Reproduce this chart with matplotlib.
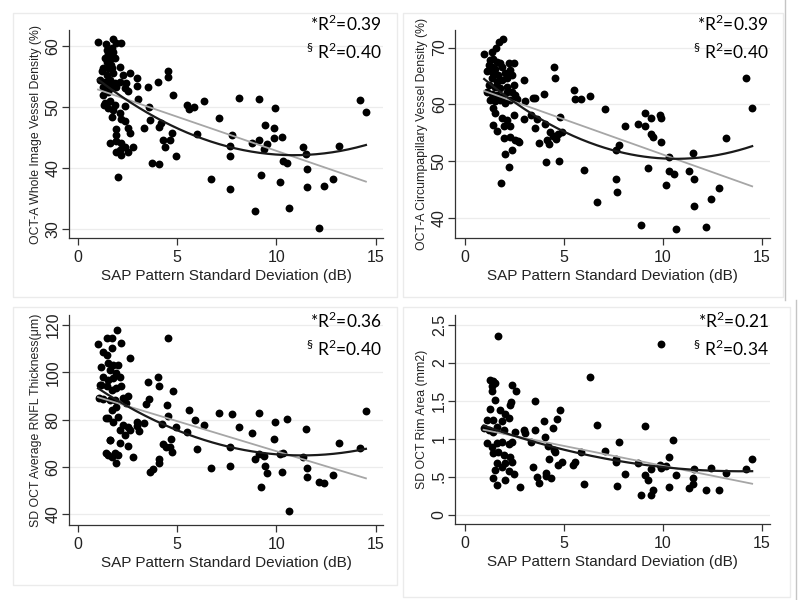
import matplotlib
matplotlib.use("Agg")
import matplotlib.pyplot as plt
from matplotlib.lines import Line2D
from matplotlib.patches import Rectangle
import numpy as np

# PSD (dB) and outcome values
psd_vd = [1.02, 1.41, 1.75, 1.95, 2.2, 1.45, 1.7, 1.53, 1.78, 1.36, 1.7, 1.87,
          1.28, 1.53, 1.7, 2.12, 1.2, 1.45, 1.78, 2.28, 2.62,
          1.11, 1.36, 1.61, 1.87, 2.12, 2.45, 1.28, 1.61, 1.95, 2.37, 2.54,
          1.36, 1.61, 1.87, 1.53, 1.78, 2.37, 2.12, 1.7, 2.2, 2.37, 1.95, 2.54, 1.95, 2.62,
          1.61, 1.95, 2.2, 2.37, 2.12, 2.54, 1.95, 2.2, 2.04,
          1.25, 1.5, 1.45, 1.65, 1.3, 1.55,
          2.96, 2.96, 3.04, 2.79, 3.53, 3.6, 3.63, 3.33, 3.76, 4.05, 4.1, 4.2, 4.1,
          4.3, 4.38, 4.52, 4.55, 4.64, 4.72, 4.8, 4.92, 5.48, 5.61, 5.86, 6.01,
          6.35, 6.69, 7.11, 7.66, 7.66, 7.66, 7.78, 8.11, 8.77, 8.9,
          9.1, 9.1, 9.24, 9.39, 9.42, 9.51, 9.88, 9.93, 9.88,
          10.16, 10.28, 10.35, 10.52, 10.62, 11.34, 11.49, 11.52, 11.54,
          12.16, 12.41, 12.83, 13.17, 14.21, 14.5]
whole_vd = [60.7, 60.4, 61.3, 60.6, 60.6, 59.4, 59.7, 58.7, 59.1, 58.1, 58.1, 58.1,
            56.4, 56.5, 56.4, 56.7, 55.9, 55.3, 55.6, 55.3, 55.6,
            54.5, 54.2, 54.5, 54.0, 54.2, 54.0, 53.4, 53.1, 53.4, 53.1, 52.6,
            50.7, 51.0, 50.4, 49.9, 49.6, 50.2, 49.0, 48.4, 48.1, 47.8, 46.4, 46.6, 45.5, 45.8,
            44.1, 44.4, 44.1, 43.5, 43.0, 42.7, 42.7, 42.2, 38.6,
            52.0, 52.5, 57.5, 57.0, 50.3, 54.0,
            54.8, 53.5, 51.3, 43.4, 53.3, 50.1, 47.9, 46.6, 40.9, 54.1, 46.8, 47.5, 40.7,
            44.6, 43.5, 55.9, 54.9, 44.6, 45.7, 52.1, 42.0, 50.4, 49.8, 50.1, 45.6,
            51.1, 38.3, 48.3, 42.0, 43.6, 36.6, 45.5, 51.6, 44.2, 33.0,
            51.3, 44.6, 38.8, 43.2, 47.1, 44.0, 46.6, 49.9, 45.0,
            37.7, 45.2, 41.2, 40.8, 33.4, 43.5, 42.4, 39.9, 36.9,
            30.2, 37.0, 38.3, 43.7, 51.2, 49.3]

psd_cvd = [1.93, 1.76, 1.6, 1.38, 0.99,
           1.29, 1.46, 1.63, 1.8, 1.21, 1.38, 1.55, 1.88, 2.22, 2.47,
           1.13, 1.46, 1.71, 2.05, 2.3, 1.38, 1.63, 1.88, 2.14, 2.39,
           1.21, 1.55, 1.8, 2.14, 2.47, 1.13, 1.38, 1.63, 1.88, 2.14, 2.39, 2.56,
           1.29, 1.55, 1.8, 2.05, 2.3, 2.64, 1.46, 1.55, 1.88, 2.14, 2.47,
           1.46, 1.63, 1.97, 2.3, 1.97, 2.3, 2.56, 2.73, 2.39, 2.05, 2.22, 1.83,
           2.98, 3.06, 2.98, 2.72, 3.45, 3.56, 3.35, 3.56, 3.65, 3.73,
           4.03, 4.07, 4.1, 4.15, 4.27, 4.32, 4.46, 4.49, 4.54, 4.62, 4.69, 4.74, 4.83, 4.91,
           5.5, 5.58, 5.88, 6.0, 6.34, 6.68, 7.1, 7.65, 7.68, 7.65, 7.77, 8.1, 8.76, 8.9,
           9.11, 9.11, 9.23, 9.4, 9.48, 9.42, 9.87, 9.9, 9.92, 10.16, 10.31, 10.29, 10.54, 10.64,
           11.32, 11.5, 11.55, 11.55, 12.17, 12.43, 12.83, 13.18, 14.21, 14.5]
circum_vd = [71.6, 70.9, 69.9, 69.3, 68.8,
             67.8, 67.9, 67.5, 67.2, 66.9, 66.6, 66.3, 66.6, 67.2, 67.2,
             65.8, 65.5, 65.2, 65.5, 66.1, 64.6, 64.0, 64.3, 64.6, 65.2,
             63.4, 63.1, 62.8, 63.1, 63.4, 62.2, 61.9, 61.6, 61.3, 62.2, 62.2, 61.6,
             60.7, 60.5, 60.7, 60.2, 60.7, 61.0, 59.3, 58.4, 57.5, 57.2, 58.1,
             56.4, 55.3, 56.1, 56.1, 54.0, 54.3, 53.7, 53.4, 52.0, 51.3, 49.0, 46.1,
             64.3, 60.5, 57.4, 53.5, 61.2, 61.2, 58.2, 55.8, 57.4, 53.2,
             61.9, 56.6, 49.8, 53.7, 53.0, 55.2, 54.4, 66.5, 64.7, 53.8, 54.8, 50.0, 57.7, 55.1,
             62.5, 60.9, 60.9, 48.5, 61.5, 42.7, 59.1, 46.9, 44.6, 51.9, 52.8, 56.1, 56.6, 38.8,
             58.4, 56.2, 48.7, 54.8, 54.3, 57.5, 58.2, 57.6, 53.4, 45.8, 50.8, 48.3, 47.8, 38.1,
             48.2, 51.5, 46.9, 42.0, 38.3, 43.3, 45.2, 54.0, 64.7, 59.3]

psd_rnfl = [1.98, 1.02, 1.45, 1.7, 2.2, 1.7, 1.28, 1.45,
            1.19, 1.53, 1.78, 2.04, 1.61, 1.95, 1.28, 1.53, 1.78, 2.12,
            1.19, 1.45, 1.7, 1.95, 2.2, 1.28, 1.61, 1.87, 2.28, 2.54, 2.45, 1.95, 1.7,
            1.53, 1.78, 2.04, 2.28, 2.54, 2.12, 2.37, 2.62, 1.61, 2.12, 2.54, 1.53, 1.7, 2.04, 1.95,
            1.11, 1.08, 1.44, 1.61, 1.44, 1.86,
            2.62, 2.79, 2.96, 2.99, 3.09, 3.33, 3.43, 3.54, 3.6, 3.66, 3.8,
            4.05, 4.1, 4.1, 4.1, 4.22, 4.3, 4.42, 4.47, 4.52, 4.55, 4.64, 4.69, 4.72, 4.8, 4.92,
            5.51, 5.59, 5.9, 6.01, 6.35, 6.69, 7.11, 7.66, 7.66, 7.78, 8.11, 8.77, 8.9,
            9.1, 9.1, 9.24, 9.39, 9.42, 9.51, 9.88, 9.93, 10.16, 10.28, 10.35, 10.52, 10.62,
            11.34, 11.49, 11.52, 11.54, 12.16, 12.41, 12.83, 13.17, 14.21, 14.5]
rnfl = [117.9, 112.1, 114.5, 114.5, 112.3, 110.2, 108.7, 107.3,
        102.4, 103.8, 103.1, 103.1, 100.9, 99.6, 98.2, 96.8, 97.5, 98.2,
        94.7, 94.0, 92.6, 93.3, 94.3, 88.9, 88.2, 88.2, 89.3, 89.9, 86.9, 85.5, 84.1,
        80.6, 79.2, 81.3, 77.8, 77.1, 75.7, 73.6, 75.7, 71.5, 70.1, 68.7, 65.1, 64.4, 65.1, 61.6,
        94.6, 89.0, 80.6, 71.4, 65.8, 66.1,
        105.9, 64.4, 79.2, 77.3, 75.2, 78.5, 86.6, 96.1, 88.7, 58.0, 59.0,
        97.9, 94.0, 63.2, 61.5, 78.0, 69.7, 68.6, 86.2, 114.6, 81.5, 68.3, 71.8, 66.5, 92.3, 76.8,
        74.6, 84.1, 79.9, 67.6, 77.6, 59.7, 82.7, 68.6, 60.6, 82.4, 77.0, 74.2, 63.5,
        83.0, 65.5, 51.7, 64.6, 60.6, 57.6, 71.7, 79.2, 65.5, 58.0, 65.8, 80.1, 41.4,
        64.4, 75.9, 59.4, 55.8, 53.5, 53.4, 56.5, 70.3, 68.2, 83.7]

psd_rim = [1.71, 1.29, 1.46, 1.38, 1.55, 1.38, 2.39, 2.6, 1.55, 2.36, 2.3,
           1.29, 1.8, 2.05, 2.22, 1.46, 1.13, 1.63, 1.88,
           0.96, 1.21, 1.46, 1.97, 2.56,
           1.13, 1.38, 1.63, 1.88, 2.22, 2.39, 1.46, 1.71, 1.97, 2.3,
           1.63, 1.88, 2.05, 2.39, 1.55, 2.22, 1.46, 2.05, 2.47, 1.63,
           2.78, 2.98, 3.06, 3.35, 3.45, 3.56, 3.56, 3.65, 3.73,
           4.03, 4.07, 4.1, 4.12, 4.2, 4.27, 4.37, 4.46, 4.49, 4.57, 4.66, 4.69, 4.79, 4.91,
           5.46, 5.58, 5.87, 6.0, 6.34, 6.68, 7.1, 7.65, 7.65, 7.68, 7.77, 8.1, 8.76, 8.9,
           9.11, 9.11, 9.23, 9.4, 9.42, 9.48, 9.9, 9.87, 9.92, 10.16, 10.29, 10.31, 10.5, 10.64,
           11.32, 11.5, 11.52, 11.55, 12.17, 12.43, 12.83, 13.18, 14.21, 14.5]
rim_area = [2.35, 1.78, 1.76, 1.69, 1.74, 1.63, 1.71, 1.63, 1.51, 1.49, 1.45,
            1.39, 1.38, 1.32, 1.28, 1.25, 1.25, 1.16, 1.23,
            1.14, 1.12, 1.09, 1.12, 1.09,
            0.94, 0.89, 0.94, 0.96, 0.93, 0.96, 0.81, 0.83, 0.79, 0.76,
            0.68, 0.63, 0.68, 0.70, 0.59, 0.57, 0.48, 0.46, 0.53, 0.39,
            0.37, 1.12, 1.07, 0.96, 0.63, 1.50, 1.12, 0.50, 0.42,
            1.24, 1.02, 0.55, 0.51, 0.90, 0.74, 0.48, 1.14, 0.85, 0.82, 1.26, 0.66, 1.38, 0.70,
            0.66, 0.69, 0.82, 0.40, 1.81, 1.18, 0.84, 0.73, 0.69, 0.38, 0.96, 0.54, 0.68, 0.26,
            1.17, 0.52, 0.46, 0.60, 0.26, 0.33, 2.25, 0.66, 0.61, 0.64, 0.76, 0.36, 0.98, 0.52,
            0.35, 0.40, 0.48, 0.60, 0.33, 0.61, 0.32, 0.55, 0.60, 0.73]

ylabels = ["OCT-A Whole Image Vessel Density (%)",
           "OCT-A Circumpapillary Vessel Density (%)",
           "SD OCT Average RNFL Thickness(\u03bcm)",
           "SD OCT Rim Area (mm2)"]
r2_linear = ["0.39", "0.39", "0.36", "0.21"]
r2_quad = ["0.40", "0.40", "0.40", "0.34"]
yticks = [[30, 40, 50, 60], [40, 50, 60, 70], [40, 60, 80, 100, 120],
          [0, 0.5, 1, 1.5, 2, 2.5]]
yticklabels = [None, None, None, ["0", ".5", "1", "1.5", "2", "2.5"]]
xlabel = "SAP Pattern Standard Deviation (dB)"

plt.rcParams['font.family'] = ['Liberation Sans', 'DejaVu Sans']
plt.rcParams['mathtext.fontset'] = 'custom'
plt.rcParams['mathtext.rm'] = 'Lato'

fig = plt.figure(figsize=(8, 6), dpi=100)
fig.patch.set_facecolor('w')

# faint frames of the four pasted graphs
for (x0, y0, x1, y1) in [(13, 13, 397, 297), (403, 13, 783, 297),
                         (13, 307, 397, 585), (403, 307, 790, 597)]:
    fig.patches.append(Rectangle((x0 / 800, 1 - y1 / 600), (x1 - x0) / 800,
                                 (y1 - y0) / 600, transform=fig.transFigure,
                                 fill=False, ec='#ebebeb', lw=1))
fig.add_artist(Line2D([785 / 800, 785 / 800], [0.5, 1], color='#c4c4c4', lw=1))
fig.add_artist(Line2D([796 / 800, 796 / 800], [0.0, 0.5], color='#c4c4c4', lw=1))

rects = [[0.086, 0.603, 0.393, 0.347], [0.569, 0.603, 0.394, 0.347],
         [0.086, 0.125, 0.393, 0.350], [0.569, 0.127, 0.394, 0.348]]
ylims = [(28.5, 62.7), (36.4, 73.1), (35.5, 124.2), (-0.12, 2.63)]
xlims = [(-0.45, 15.37), (-0.47, 15.42), (-0.45, 15.37), (-0.47, 15.42)]
r2_y = [(0.995, 0.86), (0.995, 0.86), (0.94, 0.805), (0.94, 0.805)]
datasets = [(psd_vd, whole_vd), (psd_cvd, circum_vd),
            (psd_rnfl, rnfl), (psd_rim, rim_area)]

for i, (xs, ys) in enumerate(datasets):
    xs = np.array(xs)
    ys = np.array(ys)
    ax = fig.add_axes(rects[i])
    ax.set_xlim(xlims[i])
    ax.set_ylim(ylims[i])
    ax.set_yticks(yticks[i])
    if yticklabels[i] is not None:
        ax.set_yticklabels(yticklabels[i])
    ax.set_xticks([0, 5, 10, 15])
    for t in yticks[i]:
        ax.axhline(t, color='#ececec', lw=0.9, zorder=0)

    ax.scatter(xs, ys, s=32, color='black', zorder=3, linewidths=0)
    grid = np.linspace(xs.min(), xs.max(), 200)
    lin = np.polyfit(xs, ys, 1)
    quad = np.polyfit(xs, ys, 2)
    ax.plot(grid, np.polyval(lin, grid), color='#a6a6a6', lw=1.3, zorder=4)
    ax.plot(grid, np.polyval(quad, grid), color='#1a1a1a', lw=1.6, zorder=4)

    for side in ['top', 'right']:
        ax.spines[side].set_visible(False)
    for side in ['left', 'bottom']:
        ax.spines[side].set_color('#333333')
        ax.spines[side].set_linewidth(0.9)
    ax.tick_params(length=5, width=0.9, color='#333333', labelsize=11.5,
                   labelcolor='#222222')
    ax.tick_params(axis='y', pad=1)
    plt.setp(ax.get_yticklabels(), rotation=90, va='center')
    ax.set_ylabel(ylabels[i], fontsize=8.8, color='#222222')
    ax.yaxis.set_label_coords(-0.085, 0.5)
    ax.set_xlabel(xlabel, fontsize=11, color='#222222', labelpad=3)

    ax.text(0.995, r2_y[i][0], "*R$^{2}$=" + r2_linear[i], transform=ax.transAxes,
            ha='right', va='baseline', fontsize=12.5, family='Lato')
    ax.text(0.995, r2_y[i][1], r"$^{\S}$ R$^{2}$=" + r2_quad[i], transform=ax.transAxes,
            ha='right', va='baseline', fontsize=12.5, family='Lato')

fig.savefig('out.png', dpi=100, facecolor='w')
